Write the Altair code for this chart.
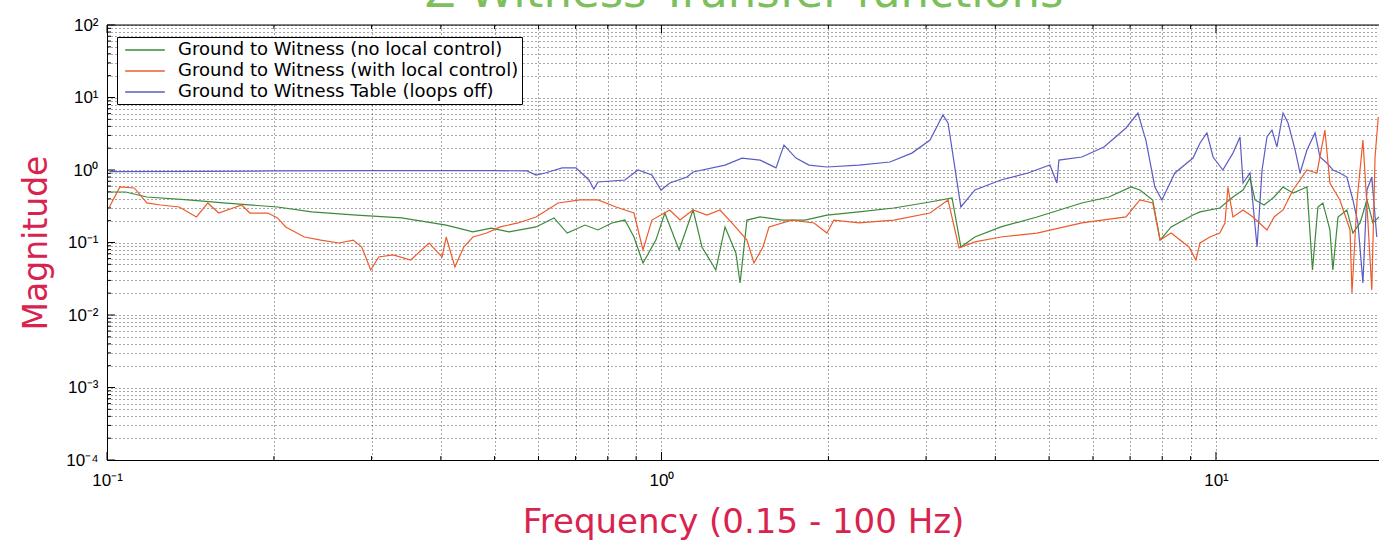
import altair as alt
import pandas as pd

TITLE = "Z Witness Transfer functions"
X_TITLE = "Frequency (0.15 - 100 Hz)"
Y_TITLE = "Magnitude"
SERIES = [
    "Ground to Witness (no local control)",
    "Ground to Witness (with local control)",
    "Ground to Witness Table (loops off)",
]
COLORS = ["#3a8a3a", "#ee5b2b", "#5b5bc6"]
CRIMSON = "#d8234f"

X_MIN, X_MAX = 0.1, 19.68
Y_MIN, Y_MAX = 1e-4, 1e2

# Ground to Witness (no local control)
green_f = [0.101, 0.108, 0.118, 0.140, 0.162, 0.203, 0.234, 0.282, 0.340, 0.409,
           0.457, 0.493, 0.531, 0.594, 0.640, 0.676, 0.728, 0.768, 0.814, 0.859,
           0.892, 0.926, 0.977, 1.014, 1.076, 1.140, 1.183, 1.253, 1.302, 1.362,
           1.386, 1.426, 1.506, 1.656, 1.814, 1.988, 2.270, 2.624, 3.050, 3.342,
           3.467, 3.675, 4.094, 4.756, 5.730, 6.412, 7.027, 7.291, 7.69, 7.93,
           8.30, 9.09, 9.36, 10.16, 10.73, 11.19, 11.52, 11.76, 12.21, 12.73,
           13.21, 13.77, 14.18, 14.59, 14.93, 15.27, 15.59, 16.05, 16.25, 16.60,
           17.22, 17.66, 18.19, 18.72, 19.19, 19.68]
green_m = [0.497, 0.497, 0.424, 0.386, 0.351, 0.309, 0.264, 0.239, 0.218, 0.174,
           0.140, 0.158, 0.140, 0.164, 0.218, 0.135, 0.174, 0.149, 0.186, 0.204,
           0.119, 0.0521, 0.108, 0.255, 0.0788, 0.281, 0.0867, 0.0418, 0.164, 0.0716,
           0.0276, 0.204, 0.225, 0.204, 0.204, 0.239, 0.264, 0.299, 0.362, 0.411,
           0.0867, 0.119, 0.164, 0.225, 0.351, 0.424, 0.583, 0.530, 0.386, 0.108,
           0.164, 0.239, 0.264, 0.299, 0.424, 0.530, 0.776, 0.386, 0.329, 0.424,
           0.583, 0.482, 0.530, 0.583, 0.0418, 0.309, 0.351, 0.149, 0.0418, 0.225,
           0.281, 0.135, 0.186, 0.386, 0.186, 0.225]

# Ground to Witness (with local control)
orange_f = [0.101, 0.1055, 0.112, 0.118, 0.125, 0.135, 0.145, 0.152, 0.159, 0.175,
            0.181, 0.195, 0.203, 0.210, 0.227, 0.243, 0.262, 0.278, 0.288, 0.299,
            0.309, 0.328, 0.353, 0.381, 0.402, 0.409, 0.424, 0.440, 0.457, 0.484,
            0.512, 0.551, 0.594, 0.651, 0.713, 0.768, 0.828, 0.892, 0.926, 0.961,
            1.035, 1.080, 1.140, 1.208, 1.275, 1.351, 1.426, 1.468, 1.524, 1.563,
            1.718, 1.884, 1.988, 2.046, 2.270, 2.624, 3.050, 3.287, 3.440, 3.675,
            4.094, 4.756, 5.730, 6.883, 7.291, 7.69, 7.93, 8.30, 8.94, 9.20,
            9.36, 9.75, 10.16, 10.38, 10.51, 10.73, 11.19, 11.66, 12.36, 12.73,
            13.21, 13.77, 14.59, 15.21, 15.72, 16.05, 16.73, 17.45, 17.59, 17.97,
            18.41, 18.80, 19.10, 19.36, 19.62]
orange_m = [0.309, 0.583, 0.565, 0.351, 0.329, 0.309, 0.225, 0.351, 0.255, 0.329,
            0.255, 0.255, 0.218, 0.164, 0.119, 0.108, 0.0985, 0.108, 0.0867, 0.0418,
            0.0631, 0.0673, 0.0574, 0.0985, 0.0631, 0.119, 0.0459, 0.0867, 0.119, 0.135,
            0.164, 0.186, 0.225, 0.351, 0.386, 0.386, 0.309, 0.255, 0.0788, 0.204,
            0.281, 0.204, 0.281, 0.239, 0.281, 0.174, 0.108, 0.0521, 0.0867, 0.164,
            0.204, 0.186, 0.135, 0.204, 0.186, 0.204, 0.255, 0.386, 0.0840, 0.102,
            0.119, 0.135, 0.186, 0.225, 0.386, 0.351, 0.108, 0.135, 0.0867, 0.0574,
            0.0985, 0.119, 0.135, 0.186, 0.583, 0.225, 0.281, 0.225, 0.149, 0.225,
            0.281, 0.530, 1.00, 0.91, 3.56, 0.662, 0.386, 0.149, 0.0201, 0.386,
            2.59, 0.186, 0.0222, 1.51, 5.38]

# Ground to Witness Table (loops off)
blue_f = [0.101, 0.15, 0.2, 0.3, 0.4, 0.5, 0.572, 0.594, 0.617, 0.662,
          0.701, 0.740, 0.755, 0.768, 0.859, 0.907, 0.961, 0.998, 1.035, 1.112,
          1.140, 1.302, 1.397, 1.506, 1.609, 1.663, 1.748, 1.845, 1.988, 2.270,
          2.582, 2.829, 3.050, 3.218, 3.287, 3.467, 3.675, 4.094, 4.579, 5.018,
          5.166, 5.209, 5.730, 6.280, 6.883, 7.231, 7.474, 7.76, 7.99, 8.43,
          9.09, 9.36, 9.63, 9.88, 10.29, 10.73, 11.05, 11.19, 11.52, 11.86,
          12.11, 12.36, 12.62, 12.88, 13.21, 13.49, 13.89, 14.18, 14.59, 15.09,
          15.40, 15.85, 16.25, 16.73, 17.22, 17.66, 18.03, 18.41, 18.72, 19.10,
          19.50]
blue_m = [0.95, 0.96, 0.97, 0.98, 0.98, 0.98, 0.97, 0.853, 0.91, 1.07,
          1.07, 0.728, 0.547, 0.683, 0.728, 1.00, 0.853, 0.53, 0.662, 0.80,
          0.94, 1.17, 1.46, 1.37, 1.07, 2.21, 1.46, 1.17, 1.10, 1.17,
          1.29, 1.71, 2.59, 5.74, 4.45, 0.309, 0.53, 0.728, 0.91, 1.17,
          0.662, 1.37, 1.51, 2.08, 3.80, 6.11, 2.59, 0.583, 0.386, 0.91,
          1.46, 2.36, 3.24, 1.51, 1.00, 1.71, 2.85, 0.662, 0.91, 0.0867,
          1.00, 2.85, 3.56, 2.08, 6.11, 4.45, 1.89, 0.91, 1.89, 3.24,
          1.51, 1.25, 1.00, 0.91, 0.80, 0.386, 0.186, 0.0276, 0.53, 0.80,
          0.119]

Y_TICKS = [k * 10.0 ** e for e in range(-4, 2) for k in range(1, 10)] + [100.0]
X_TICKS = [k * 10.0 ** e for e in range(-1, 2) for k in range(1, 10) if k * 10.0 ** e <= X_MAX]
Y_MAJOR = [10.0 ** e for e in range(-4, 3)]
X_MAJOR = [0.1, 1.0, 10.0]
Y_MINOR = [v for v in Y_TICKS if v not in Y_MAJOR]
X_MINOR = [v for v in X_TICKS if v not in X_MAJOR]

W, H = 1272, 435

rows = []
for name, fs, ms in [(SERIES[2], blue_f, blue_m), (SERIES[0], green_f, green_m), (SERIES[1], orange_f, orange_m)]:
    assert len(fs) == len(ms)
    for f, m in zip(fs, ms):
        rows.append({"series": name, "f": f, "m": m})
df = pd.DataFrame(rows)

x_scale = alt.Scale(type="log", domain=[X_MIN, X_MAX], nice=False)
y_scale = alt.Scale(type="log", domain=[Y_MIN, Y_MAX], nice=False)

EXP = "round(log(datum.value)/LN10)"
SUP = "['⁻⁴','⁻³','⁻²','⁻¹','⁰','¹','²']"
LBL = f"abs(log(datum.value)/LN10 - {EXP}) < 0.001 ? '10' + {SUP}[{EXP}+4] : ''"

GRID = dict(grid=True, gridDash=[1, 3], gridColor="#333333", gridOpacity=0.85, gridWidth=1)

x_axis = alt.Axis(
    values=X_TICKS, labelExpr=LBL, ticks=False, domainColor="black", domainWidth=1,
    labelFont="Liberation Sans", labelFontSize=17, labelColor="black", labelPadding=12,
    labelFlush=False, labelOverlap=False,
    title=X_TITLE, titleFont="DejaVu Sans", titleFontSize=34, titleFontWeight="normal",
    titleColor=CRIMSON, titleY=72, titleBaseline="alphabetic", **GRID,
)
y_axis = alt.Axis(
    values=Y_TICKS, labelExpr=LBL, ticks=False, domainColor="black", domainWidth=1,
    labelFont="Liberation Sans", labelFontSize=17, labelColor="black", labelPadding=9,
    labelOverlap=False,
    title=Y_TITLE, titleFont="DejaVu Sans", titleFontSize=33, titleFontWeight="normal",
    titleColor=CRIMSON, titleX=-61, titleY=H / 2, titleBaseline="alphabetic",
    titleAngle=270, titleAlign="center", **GRID,
)

X = lambda: alt.X("f:Q", scale=x_scale, axis=x_axis)
Y = lambda: alt.Y("m:Q", scale=y_scale, axis=y_axis)

lines = alt.Chart(df).mark_line(strokeWidth=1.2, clip=True).encode(
    x=X(), y=Y(),
    color=alt.Color(
        "series:N",
        scale=alt.Scale(domain=SERIES, range=COLORS),
        sort=SERIES,
        legend=alt.Legend(
            title=None, orient="none", legendX=10, legendY=12,
            strokeColor="black", fillColor="white", padding=3, cornerRadius=0,
            symbolType="M-2.2,0H2.2", symbolSize=324, symbolStrokeWidth=1.3,
            symbolFillColor="transparent", symbolOffset=15,
            labelFont="DejaVu Sans", labelFontSize=18, labelColor="black",
            labelOffset=23, rowPadding=2, labelLimit=0,
        ),
    ),
    detail="series:N",
)

ymaj = pd.DataFrame({"m": Y_MAJOR})
ymin = pd.DataFrame({"m": Y_MINOR})
xmaj = pd.DataFrame({"f": X_MAJOR})
xmin = pd.DataFrame({"f": X_MINOR})

left_major = alt.Chart(ymaj).mark_rule(color="black").encode(y=Y(), x=alt.value(0), x2=alt.value(8))
left_minor = alt.Chart(ymin).mark_rule(color="black").encode(y=Y(), x=alt.value(0), x2=alt.value(4))
bot_major = alt.Chart(xmaj).mark_rule(color="black").encode(x=X(), y=alt.value(H), y2=alt.value(H - 8))
bot_minor = alt.Chart(xmin).mark_rule(color="black").encode(x=X(), y=alt.value(H), y2=alt.value(H - 4))
top_major = alt.Chart(xmaj).mark_rule(color="black").encode(x=X(), y=alt.value(0), y2=alt.value(8))
top_minor = alt.Chart(xmin).mark_rule(color="black").encode(x=X(), y=alt.value(0), y2=alt.value(4))
top_frame = alt.Chart(pd.DataFrame({"m": [Y_MAX]})).mark_rule(color="black").encode(
    y=Y(), x=alt.value(0), x2=alt.value(W)
)

# Chart title, cut off at the top edge as in the reference
title_text = alt.Chart(pd.DataFrame({"t": [TITLE]})).mark_text(
    font="DejaVu Sans", fontSize=45, color="#7cbf5c", align="center", baseline="alphabetic",
).encode(text="t:N", x=alt.value(W / 2 + 1), y=alt.value(-18))

chart = alt.layer(
    left_major, left_minor, bot_major, bot_minor, top_major, top_minor, top_frame, lines, title_text
).properties(
    width=W, height=H,
    autosize=alt.AutoSizeParams(type="none"),
    padding={"left": 107, "top": 25, "right": 0, "bottom": 82},
).configure_view(stroke=None).configure(background="white")

chart.save("out.html", embed_options={"renderer": "svg", "actions": False})
